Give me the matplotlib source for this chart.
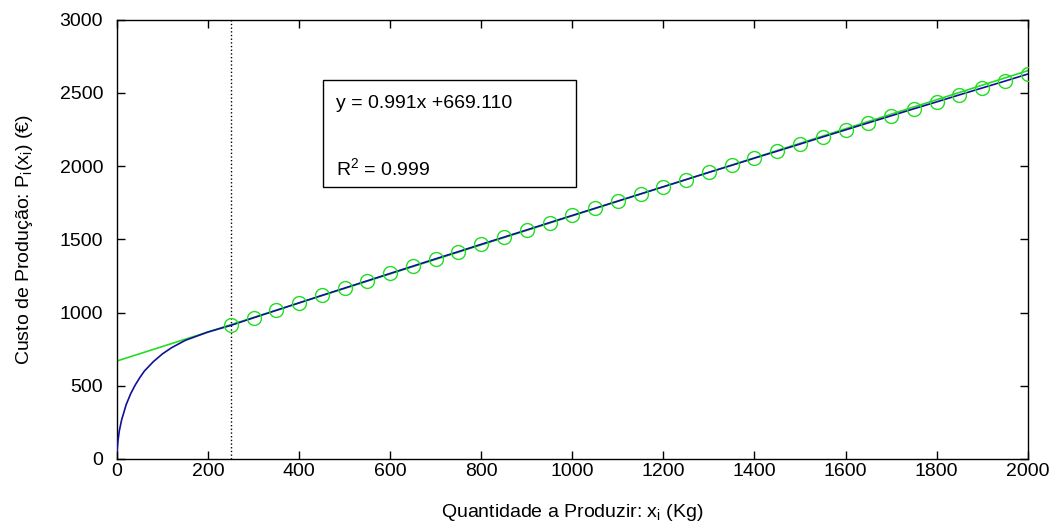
import numpy as np
import matplotlib
matplotlib.use('Agg')
import matplotlib.pyplot as plt

plt.rcParams['font.family'] = ['Liberation Sans', 'DejaVu Sans']
plt.rcParams['mathtext.default'] = 'regular'

# curva inicial (custo real, antes do limite)
xCurva = [0, 2, 5, 10, 20, 30, 40, 50, 60, 80, 100, 120, 150, 200, 250]
yCurva = [50, 120, 190, 265, 370, 445, 505, 555, 600, 665, 718, 760, 810, 867, 912]

# pontos amostrados a partir de x = 250
xPontos = list(range(250, 2001, 50))
yPontos = [912, 964, 1015, 1066, 1117, 1167, 1217, 1267, 1317, 1367,
           1416, 1466, 1515, 1564, 1614, 1663, 1712, 1761, 1810, 1859,
           1908, 1957, 2005, 2054, 2102, 2150, 2199, 2247, 2295, 2343,
           2391, 2438, 2486, 2533, 2580, 2628]

# recta de ajuste
declive = 0.991
ordenada = 669.110
r2 = 0.999
xLimite = 250

fig = plt.figure(figsize=(10.54, 5.30), dpi=100)
ax = fig.add_axes([0.111, 0.134, 0.864, 0.829])

xFit = np.array([0, 2000])
ax.plot(xFit, declive * xFit + ordenada, color='#22dd22', linewidth=1.2, zorder=2)
ax.plot(xCurva + xPontos[1:], yCurva + yPontos[1:], color='#10109a', linewidth=1.2, zorder=3)
ax.plot(xPontos, yPontos, 'o', markersize=10, markerfacecolor='none',
        markeredgecolor='#22dd22', markeredgewidth=1.0, zorder=4)
ax.axvline(xLimite, color='black', linestyle=':', linewidth=1.0, zorder=1)

ax.set_xlim(0, 2000)
ax.set_ylim(0, 3000)
ax.set_xticks(range(0, 2001, 200))
ax.set_yticks(range(0, 3001, 500))
ax.tick_params(direction='in', top=True, right=True, length=6, width=1,
               labelsize=14)
ax.tick_params(axis='x', pad=3)
ax.tick_params(axis='y', pad=10)
for s in ax.spines.values():
    s.set_linewidth(1.0)

ax.set_xlabel('Quantidade a Produzir: $x_i$ (Kg)', fontsize=14, labelpad=16)
ax.set_ylabel('Custo de Produção: $P_i(x_i)$ (€)', fontsize=14, labelpad=18)

caixa = plt.Rectangle((452, 1857), 556, 730, fill=False, edgecolor='black',
                      linewidth=1.0, zorder=5)
ax.add_patch(caixa)
ax.text(481, 2430, 'y = %.3fx +%.3f' % (declive, ordenada), fontsize=14,
        va='center', ha='left', zorder=6)
ax.text(481, 1986, '$R^2$ = %.3f' % r2, fontsize=14, va='center', ha='left', zorder=6)

fig.savefig('out.png', dpi=100)
